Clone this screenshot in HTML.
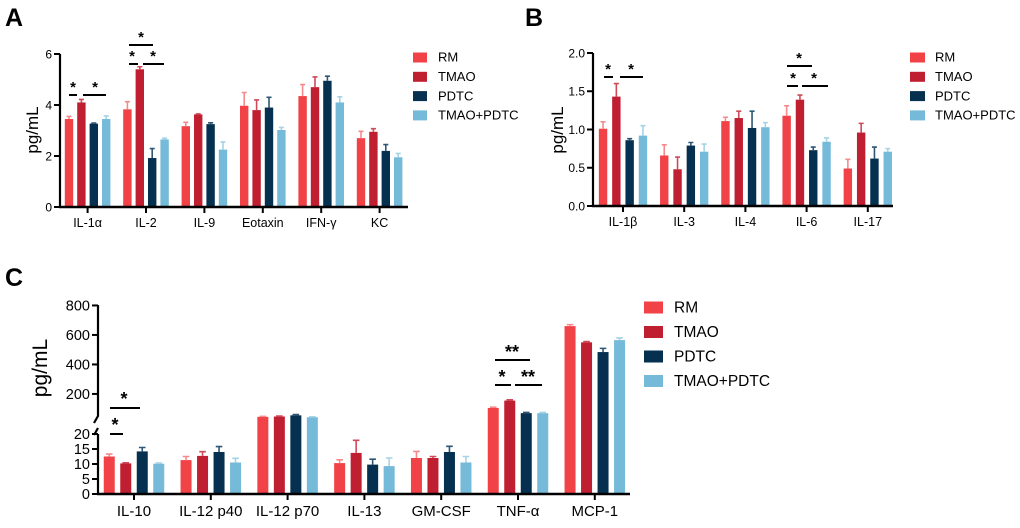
<!DOCTYPE html>
<html><head><meta charset="utf-8">
<style>
html,body{margin:0;padding:0;background:#fff;}
svg{display:block;font-family:"Liberation Sans",Arial,sans-serif;}
</style></head>
<body>
<svg id="fig" width="1020" height="528" viewBox="0 0 1020 528" xmlns="http://www.w3.org/2000/svg">
<text x="5" y="26" font-size="25" font-weight="bold">A</text>
<text x="525" y="26" font-size="25" font-weight="bold">B</text>
<text x="5" y="286" font-size="25" font-weight="bold">C</text>
<g id="A"></g>
<g id="B"></g>
<g id="C"></g>
</svg>
<script>
const seriesNames = ["RM","TMAO","PDTC","TMAO+PDTC"];
const seriesColors = ["#f04247","#c01e31","#05304f","#75bad8"];
const errColors = ["#f58a8d","#cf4a58","#2f5675","#a6d3e6"];

const catsA = ["IL-1α","IL-2","IL-9","Eotaxin","IFN-γ","KC"];
const rmA = [3.45,3.83,3.17,3.97,4.35,2.7];
const tmaoA = [4.1,5.4,3.63,3.8,4.7,2.95];
const pdtcA = [3.27,1.92,3.25,3.9,4.95,2.2];
const tpA = [3.45,2.65,2.25,3.02,4.1,1.95];
const rmAErr = [0.1,0.3,0.15,0.52,0.45,0.27];
const tmaoAErr = [0.12,0.1,0.02,0.4,0.4,0.12];
const pdtcAErr = [0.02,0.37,0.05,0.4,0.18,0.25];
const tpAErr = [0.12,0.05,0.3,0.1,0.22,0.15];
const ticksA = [0,2,4,6];

const catsB = ["IL-1β","IL-3","IL-4","IL-6","IL-17"];
const rmB = [1.01,0.66,1.11,1.18,0.49];
const tmaoB = [1.43,0.48,1.15,1.39,0.96];
const pdtcB = [0.86,0.79,1.02,0.73,0.62];
const tpB = [0.92,0.71,1.03,0.84,0.71];
const rmBErr = [0.09,0.14,0.05,0.13,0.12];
const tmaoBErr = [0.17,0.16,0.09,0.06,0.12];
const pdtcBErr = [0.02,0.04,0.22,0.04,0.15];
const tpBErr = [0.13,0.1,0.06,0.05,0.04];
const ticksB = ["0.0","0.5","1.0","1.5","2.0"];

const catsC = ["IL-10","IL-12 p40","IL-12 p70","IL-13","GM-CSF","TNF-α","MCP-1"];
const rmC = [12.5,11.3,45,10.3,12,105,660];
const tmaoC = [10.2,12.7,47,13.7,12,155,550];
const pdtcC = [14.2,14,55,9.8,14,70,484];
const tpC = [10.1,10.5,42,9.3,10.5,70,565];
const rmCErr = [0.8,1.2,3,1.1,2.2,5,10];
const tmaoCErr = [0.2,1.4,3,4.2,0.5,5,5];
const pdtcCErr = [1.3,1.8,5,1.8,1.9,5,25];
const tpCErr = [0.2,1.4,3,2.7,2,5,15];
const ticksCLow = [0,5,10,15,20];
const ticksCHigh = [200,400,600,800];

const NS="http://www.w3.org/2000/svg";
function mk(parent,tag,attrs){const e=document.createElementNS(NS,tag);for(const k in attrs)e.setAttribute(k,attrs[k]);parent.appendChild(e);return e;}

function drawPanel(cfg){
  const g=document.getElementById(cfg.id);
  const vals=[cfg.s0,cfg.s1,cfg.s2,cfg.s3], errs=[cfg.e0,cfg.e1,cfg.e2,cfg.e3];
  const y=cfg.y;
  const cx=i=>cfg.x0+cfg.first+i*cfg.step;
  for(let s=0;s<4;s++){
    for(let i=0;i<cfg.cats.length;i++){
      const v=vals[s][i], e=errs[s][i];
      const bx=cx(i)+(s-1.5)*cfg.gap;
      const segs=cfg.segments?cfg.segments(v):[[0,v]];
      segs.forEach(sg=>{
        const top=y(sg[1]), bot=y(sg[0]);
        const r=mk(g,'rect',{x:bx-cfg.bw/2,y:top,width:cfg.bw,height:Math.max(0,bot-top),fill:seriesColors[s]});
        
        
      });
      const et=y(v+e), eb=y(v);
      const l=mk(g,'path',{d:`M${bx} ${eb}V${et}M${bx-cfg.bw*0.3} ${et}H${bx+cfg.bw*0.3}`,stroke:errColors[s],'stroke-width':1.6,fill:'none'});
      
      
    }
  }
  const ax=mk(g,'path',{d:cfg.yAxisPath,stroke:'#000','stroke-width':2.2,fill:'none'});
  
  
  const xa=mk(g,'line',{x1:cfg.x0-1,x2:cfg.x1,y1:cfg.base,y2:cfg.base,stroke:'#000','stroke-width':2.4});
  
  
  cfg.ticks.forEach(t=>{
    const ty=y(parseFloat(t));
    mk(g,'line',{x1:cfg.x0-6,x2:cfg.x0,y1:ty,y2:ty,stroke:'#000','stroke-width':2});
    const tx=mk(g,'text',{x:cfg.x0-8,y:ty+cfg.tfs*0.36,'font-size':cfg.tfs,'text-anchor':'end'});
    tx.textContent=t;
    
    
  });
  cfg.cats.forEach((c,i)=>{
    mk(g,'line',{x1:cx(i),x2:cx(i),y1:cfg.base,y2:cfg.base+6,stroke:'#000','stroke-width':2});
    const tx=mk(g,'text',{x:cx(i),y:cfg.base+cfg.lblDy,'font-size':cfg.xfs,'text-anchor':'middle'});
    tx.textContent=c;
    
    
  });
  const yl=mk(g,'text',{x:0,y:0,'font-size':cfg.ylfs,'text-anchor':'middle',transform:`translate(${cfg.ylx},${cfg.yly}) rotate(-90)`});
  yl.textContent='pg/mL';
  
  
  seriesNames.forEach((n,s)=>{
    const ly=cfg.legY+s*cfg.legStep;
    const r=mk(g,'rect',{x:cfg.legX,y:ly-cfg.sw/2+0.5,width:cfg.swW,height:cfg.sw,fill:seriesColors[s]});
    
    
    const t=mk(g,'text',{x:cfg.legX+cfg.swW+cfg.legGap,y:ly+cfg.lfs*0.36,'font-size':cfg.lfs});
    t.textContent=n;
    
    
  });
  cfg.sig.forEach(sg=>{
    const l=mk(g,'line',{x1:sg[0],x2:sg[1],y1:sg[2],y2:sg[2],stroke:'#000','stroke-width':2});
    
    
  });
  cfg.stars.forEach(st=>{
    const t=mk(g,'text',{x:st[0],y:st[1],'font-size':cfg.starfs,'font-weight':'bold','text-anchor':'middle'});
    t.textContent=st[2];
    
    
  });
}

const yA=v=>207-v*25.5;
drawPanel({id:'A',cats:catsA,s0:rmA,s1:tmaoA,s2:pdtcA,s3:tpA,e0:rmAErr,e1:tmaoAErr,e2:pdtcAErr,e3:tpAErr,
  y:yA,x0:60,x1:408,first:27.6,step:58.4,gap:12.4,bw:8.4,base:207,
  yAxisPath:'M60 54V208',ticks:ticksA.map(String),tfs:12,xfs:12.5,lblDy:20,ylfs:17,ylx:38,yly:130,
  legX:413,legY:57,legStep:19.3,sw:10,swW:14,legGap:11,lfs:13,
  sig:[[69,77,95],[83,106,95],[129,138,64],[143,164,64],[129,153,45]],
  stars:[[73,92,'*'],[95,92,'*'],[132,61,'*'],[153,61,'*'],[141,42,'*']],starfs:15});

const yB=v=>206-v*76.5;
drawPanel({id:'B',cats:catsB,s0:rmB,s1:tmaoB,s2:pdtcB,s3:tpB,e0:rmBErr,e1:tmaoBErr,e2:pdtcBErr,e3:tpBErr,
  y:yB,x0:593,x1:893,first:30,step:61.2,gap:13.3,bw:8.4,base:206,
  yAxisPath:'M593 53V207',ticks:ticksB,tfs:12,xfs:12.5,lblDy:20,ylfs:17,ylx:563,yly:130,
  legX:910,legY:57,legStep:19.3,sw:10,swW:15,legGap:10,lfs:13,
  sig:[[604,613,77],[620,643,77],[787,798,86],[802,828,86],[787,812,66]],
  stars:[[608,74,'*'],[631,74,'*'],[793,83,'*'],[814,83,'*'],[799,63,'*']],starfs:15});

const yC=v=>v<=20?494-v*3:420.5-(v-20)*0.1475;
const segC=v=>v<=20?[[0,v]]:[[0,20],[20,v]];
drawPanel({id:'C',cats:catsC,s0:rmC,s1:tmaoC,s2:pdtcC,s3:tpC,e0:rmCErr,e1:tmaoCErr,e2:pdtcCErr,e3:tpCErr,
  y:yC,segments:segC,x0:98,x1:630,first:36,step:76.8,gap:16.5,bw:11,base:494,
  yAxisPath:'M98 305V416L94 423M98 428L94 435M98 434V495',ticks:ticksCHigh.concat(ticksCLow).map(String),tfs:14.5,xfs:15,lblDy:22,ylfs:21,ylx:47,yly:368,
  legX:644,legY:307,legStep:24.5,sw:12,swW:19,legGap:11,lfs:15.5,
  sig:[[110,123,434],[110,140,408],[495,530,360],[495,511,385],[515,542,385]],
  stars:[[115,431,'*'],[124,405,'*'],[512,358,'**'],[502,383,'*'],[528,383,'**']],starfs:18});
</script>
</body></html>
